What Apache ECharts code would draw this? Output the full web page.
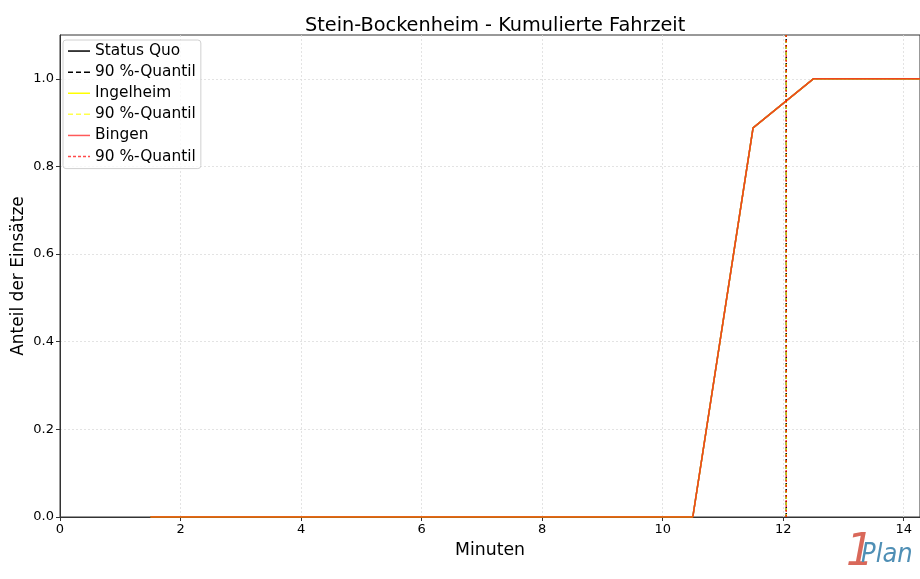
<!DOCTYPE html>
<html><head><meta charset="utf-8">
<script src="https://cdn.jsdelivr.net/npm/echarts@6/dist/echarts.min.js"></script>
<style>html,body{margin:0;padding:0;background:#fff}#c{width:920px;height:579px}</style>
</head><body><div id="c"></div>
<script>
const minutes = [1.5, 2.5, 3.5, 4.5, 5.5, 6.5, 7.5, 8.5, 9.5, 10.5, 11.5, 12.5, 13.5, 14.5];
const statusQuo = [0, 0, 0, 0, 0, 0, 0, 0, 0, 0, 0.888, 1.0, 1.0, 1.0];
const ingelheim = [0, 0, 0, 0, 0, 0, 0, 0, 0, 0, 0.888, 1.0, 1.0, 1.0];
const bingen = [0, 0, 0, 0, 0, 0, 0, 0, 0, 0, 0.888, 1.0, 1.0, 1.0];
const quantile90 = [12.05, 12.05, 12.05];
const xTicks = [0, 2, 4, 6, 8, 10, 12, 14];
const yTicks = [0.0, 0.2, 0.4, 0.6, 0.8, 1.0];

const pairs = (ys) => minutes.map((m, i) => [m, ys[i]]);
const vline = (q) => [[q, 0], [q, 1.1]];
const font = 'DejaVu Sans';
const solidIcon = 'path://M0,0h22v1.5h-22z';
const dashIcon = 'path://M0,0h5v1.5h-5z M8,0h5v1.5h-5z M16,0h6v1.5h-6z';
const dotIcon = 'path://M0,0h3v1.5h-3z M5,0h3v1.5h-3z M10,0h3v1.5h-3z M15,0h3v1.5h-3z M20,0h2v1.5h-2z';

const chart = echarts.init(document.getElementById('c'));
chart.setOption({
  animation: false,
  title: { text: 'Stein-Bockenheim - Kumulierte Fahrzeit', left: 300, top: 11,
    textStyle: { fontFamily: font, fontSize: 19.3, fontWeight: 'normal', color: '#000' } },
  grid: { left: 60, right: 0, top: 35, bottom: 62, show: true, borderColor: '#333', borderWidth: 1,
    outerBoundsMode: 'none', containLabel: false },
  legend: {
    left: 63, top: 40, orient: 'vertical', itemGap: 3, itemWidth: 22, itemHeight: 2,
    padding: [2, 5, 3, 5],
    backgroundColor: 'rgba(255,255,255,0.8)', borderColor: '#d0d0d0', borderWidth: 1, borderRadius: 3,
    textStyle: { fontFamily: font, fontSize: 15.4, color: '#000', lineHeight: 18.1 },
    data: [
      { name: 'Status Quo', icon: solidIcon },
      { name: 'q1', icon: dashIcon },
      { name: 'Ingelheim', icon: solidIcon, itemStyle: { color: '#ffff00' } },
      { name: 'q2', icon: dashIcon },
      { name: 'Bingen', icon: solidIcon },
      { name: 'q3', icon: dotIcon }
    ],
    formatter: (n) => n.startsWith('q') ? '90 %-Quantil' : n
  },
  xAxis: {
    type: 'value', min: 0, max: 14.27, interval: 2,
    name: 'Minuten', nameLocation: 'middle', nameGap: 25,
    nameTextStyle: { fontFamily: font, fontSize: 17.3, color: '#000' },
    axisLine: { onZero: false, lineStyle: { color: '#333' } },
    axisTick: { show: true, length: 4, lineStyle: { color: '#333' }, customValues: xTicks },
    axisLabel: { fontFamily: font, fontSize: 13, color: '#000', margin: 6, customValues: xTicks,
      formatter: (v) => String(v) },
    splitLine: { show: true, lineStyle: { color: '#dcdcdc', type: [2, 2], width: 0.8 } }
  },
  yAxis: {
    type: 'value', min: 0, max: 1.1, interval: 0.2,
    name: 'Anteil der Einsätze', nameLocation: 'middle', nameGap: 33, nameRotate: 90, nameMoveOverlap: false,
    nameTextStyle: { fontFamily: font, fontSize: 17, color: '#000' },
    axisLine: { show: true, lineStyle: { color: '#333' } },
    axisTick: { show: true, length: 4, lineStyle: { color: '#333' }, customValues: yTicks },
    axisLabel: { fontFamily: font, fontSize: 13, color: '#000', margin: 6, customValues: yTicks,
      formatter: (v) => v.toFixed(1) },
    splitLine: { show: true, lineStyle: { color: '#dcdcdc', type: [2, 2], width: 0.8 } }
  },
  series: [
    { name: 'Status Quo', type: 'line', data: pairs(statusQuo), showSymbol: false, symbol: 'none',
      color: '#000', lineStyle: { width: 1.5, color: '#000' }, z: 2 },
    { name: 'q1', type: 'line', data: vline(quantile90[0]), showSymbol: false, symbol: 'none',
      color: '#000', lineStyle: { width: 1.5, color: '#000', type: [4, 2] }, z: 2 },
    { name: 'Ingelheim', type: 'line', data: pairs(ingelheim), showSymbol: false, symbol: 'none',
      color: '#ffff00', lineStyle: { width: 1.5, color: '#ffff00' }, z: 3 },
    { name: 'q2', type: 'line', data: vline(quantile90[1]), showSymbol: false, symbol: 'none',
      color: 'rgba(255,255,0,0.7)', lineStyle: { width: 1.5, color: 'rgba(255,255,0,0.8)', type: [3, 3] }, z: 3 },
    { name: 'Bingen', type: 'line', data: pairs(bingen), showSymbol: false, symbol: 'none',
      color: 'rgba(255,0,0,0.65)', lineStyle: { width: 1.6, color: '#f0461c' }, z: 4 },
    { name: 'q3', type: 'line', data: vline(quantile90[2]), showSymbol: false, symbol: 'none',
      color: 'rgba(255,0,0,0.7)', lineStyle: { width: 1.5, color: 'rgba(255,0,0,0.75)', type: [2, 3] }, z: 4 }
  ],
  graphic: [
    { type: 'text', left: 846, top: 532, style: { text: '1', fontFamily: 'DejaVu Sans', fontStyle: 'italic',
      fontWeight: 'lighter', fontSize: 44, fill: '#d9685a' } },
    { type: 'text', left: 861, top: 541, style: { text: 'Plan', fontFamily: 'DejaVu Sans Condensed', fontStyle: 'italic',
      fontWeight: 'lighter', fontSize: 27, fill: '#4f8fb5' } }
  ]
});
</script></body></html>
